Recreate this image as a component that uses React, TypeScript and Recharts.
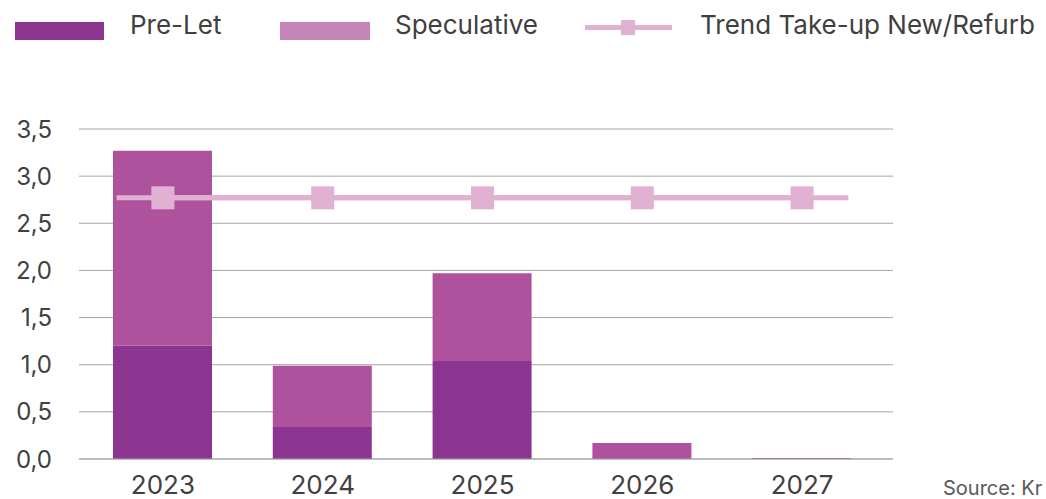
import React from 'react';
import {
  ComposedChart, Bar, Line, XAxis, YAxis, CartesianGrid, ReferenceLine
} from 'recharts';

if (typeof document !== 'undefined') document.body.style.margin = '0';

const YEARS = ['2023', '2024', '2025', '2026', '2027'];
const PRE_LET = [1.2, 0.34, 1.04, 0, 0];
const SPECULATIVE = [2.07, 0.65, 0.93, 0.17, 0.01];
const TREND = [2.77, 2.77, 2.77, 2.77, 2.77];
const Y_TICKS = [0, 0.5, 1, 1.5, 2, 2.5, 3, 3.5];
// trend line runs a bit past the first and last category (in category index units)
const TREND_SPAN = [-0.29, 4.29];

const COLORS = {
  preLet: '#8B3590',
  spec: '#AE529E',
  specLegend: '#C585B8',
  trend: '#E1B1D4',
  grid: '#A6A6A6',
  text: '#404040',
};

const data = YEARS.map((year, i) => ({
  year,
  idx: i,
  preLet: PRE_LET[i],
  speculative: SPECULATIVE[i],
  trend: TREND[i],
}));

const X_PAD = { left: 4, right: 11 };

const SquareDot = (props: any) => {
  const { cx, cy } = props;
  if (cx == null || cy == null) return null;
  return <rect x={cx - 11.5} y={cy - 11.5} width={23} height={23} fill={COLORS.trend} />;
};

const legendText: React.CSSProperties = {
  position: 'absolute',
  top: 9,
  fontSize: 26,
  color: COLORS.text,
  lineHeight: '32px',
  whiteSpace: 'nowrap',
};

export default function App() {
  return (
    <div style={{ position: 'relative', width: 1046, height: 499, overflow: 'hidden', fontFamily: 'Inter, sans-serif', background: '#fff' }}>
      {/* legend */}
      <div style={{ position: 'absolute', left: 15, top: 22, width: 89, height: 18, background: COLORS.preLet }} />
      <div style={{ ...legendText, left: 130 }}>Pre-Let</div>
      <div style={{ position: 'absolute', left: 280, top: 22, width: 90, height: 18, background: COLORS.specLegend }} />
      <div style={{ ...legendText, left: 395 }}>Speculative</div>
      <div style={{ position: 'absolute', left: 585, top: 25, width: 87, height: 5, background: COLORS.trend }} />
      <div style={{ position: 'absolute', left: 621, top: 20, width: 14, height: 15, background: COLORS.trend }} />
      <div style={{ ...legendText, left: 700 }}>Trend Take-up New/Refurb</div>

      <ComposedChart
        width={1046}
        height={499}
        data={data}
        margin={{ top: 129, right: 153, left: 0, bottom: 0 }}
        barGap={0}
      >
        <CartesianGrid vertical={false} stroke={COLORS.grid} strokeWidth={1} />
        <XAxis
          dataKey="year"
          height={40}
          padding={X_PAD}
          axisLine={{ stroke: COLORS.grid }}
          tickLine={false}
          tickSize={0}
          tickMargin={17}
          tick={{ fill: COLORS.text, fontSize: 26 }}
        />
        <XAxis xAxisId="num" type="number" dataKey="idx" domain={[-0.5, 4.5]} padding={X_PAD} hide />
        <YAxis
          width={79}
          domain={[0, 3.5]}
          ticks={Y_TICKS}
          interval={0}
          axisLine={false}
          tickLine={false}
          tickSize={0}
          tickMargin={27}
          tick={{ fill: COLORS.text, fontSize: 24 }}
          tickFormatter={(v: number) => v.toFixed(1).replace('.', ',')}
        />
        <Bar dataKey="preLet" stackId="a" fill={COLORS.preLet} barSize={99} isAnimationActive={false} />
        <Bar dataKey="speculative" stackId="a" fill={COLORS.spec} barSize={99} isAnimationActive={false} />
        <ReferenceLine
          xAxisId="num"
          segment={[{ x: TREND_SPAN[0], y: TREND[0] }, { x: TREND_SPAN[1], y: TREND[TREND.length - 1] }]}
          stroke={COLORS.trend}
          strokeWidth={5}
        />
        <Line
          xAxisId="num"
          dataKey="trend"
          stroke={COLORS.trend}
          strokeWidth={5}
          dot={<SquareDot />}
          activeDot={false}
          isAnimationActive={false}
        />
      </ComposedChart>

      <div style={{ position: 'absolute', left: 943, top: 476, fontSize: 20, color: '#595959', whiteSpace: 'nowrap' }}>
        Source: Kr
      </div>
    </div>
  );
}
